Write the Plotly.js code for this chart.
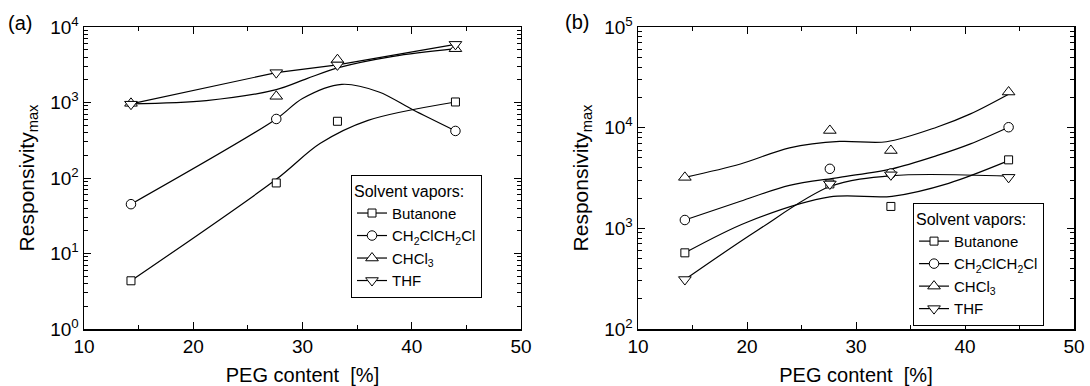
<!DOCTYPE html>
<html><head><meta charset="utf-8">
<script src="https://cdn.plot.ly/plotly-3.0.1.min.js"></script>
<style>html,body{margin:0;padding:0;background:#fff}</style>
</head><body><div id="chart" style="width:1090px;height:386px"></div>
<script>
// ---- data ----
const pegContent = [14.3, 27.6, 33.2, 44.0];
const seriesNames = ['Butanone', 'CH<sub>2</sub>ClCH<sub>2</sub>Cl', 'CHCl<sub>3</sub>', 'THF'];
const seriesSymbols = ['square', 'circle', 'triangle-up', 'triangle-down'];

// panel (a) measured points
const aButanone = [4.35, 86, 564, 1016];
const aDCE      = [45, 605, null, 420];
const aCHCl3    = [975, 1208, 3690, 5160];
const aTHF      = [950, 2485, 3150, 5890];

// panel (a) fitted guide curves
const aButanoneFitX = [14.3, 27.6, 31.6, 36.0, 44.0];
const aButanoneFitY = [4.35, 96, 286, 580, 1016];
const aDCEFitX = [14.3, 27.6, 30.0, 33.6, 37.0, 40.1, 44.0];
const aDCEFitY = [45, 605, 1130, 1740, 1380, 800, 420];
const aCHCl3FitX = [14.3, 21.2, 27.6, 30.4, 33.3, 38.3, 44.0];
const aCHCl3FitY = [960, 1060, 1480, 2070, 2890, 4080, 5160];
const aTHFFitX = [14.3, 27.6, 33.2, 44.0];
const aTHFFitY = [960, 2485, 3150, 5890];

// panel (b) measured points
const bButanone = [571, 2760, 1650, 4790];
const bDCE      = [1210, 3900, 3500, 10100];
const bCHCl3    = [3210, 9380, 5930, 22600];
const bTHF      = [310, 2760, 3400, 3210];

// panel (b) fitted guide curves
const bButanoneFitX = [14.3, 20.0, 27.6, 33.3, 38.5, 44.0];
const bButanoneFitY = [571, 1150, 2050, 2080, 2800, 4700];
const bDCEFitX = [14.3, 19.4, 23.9, 28.5, 33.3, 37.4, 40.5, 44.0];
const bDCEFitY = [1210, 1860, 2670, 3210, 3900, 5270, 6900, 10100];
const bCHCl3FitX = [14.3, 19.4, 23.9, 28.5, 32.8, 37.4, 40.5, 44.0];
const bCHCl3FitY = [3210, 4360, 6300, 7300, 7250, 10100, 13700, 21500];
const bTHFFitX = [14.3, 20.9, 27.6, 33.3, 44.0];
const bTHFFitY = [310, 946, 2600, 3340, 3300];

// axis tick labels
const xTickVals = [10, 20, 30, 40, 50];
const xMinorVals = [15, 25, 35, 45];
const aYTickVals = [1, 10, 100, 1000, 10000];
const aYTickText = ['10<sup>0</sup>', '10<sup>1</sup>', '10<sup>2</sup>', '10<sup>3</sup>', '10<sup>4</sup>'];
const bYTickVals = [100, 1000, 10000, 100000];
const bYTickText = ['10<sup>2</sup>', '10<sup>3</sup>', '10<sup>4</sup>', '10<sup>5</sup>'];

// ---- build ----
const FONT = 'Liberation Sans, Arial, Helvetica, sans-serif';
function minorLog(lo, hi) {
  const v = [];
  for (let e = lo; e < hi; e++) for (let m = 2; m <= 9; m++) v.push(m * Math.pow(10, e));
  return v;
}
const markerSizes = [8, 9.5, 11, 11];

function panel(fits, points, xa, ya, legendId, shapes) {
  const tr = [];
  fits.forEach((f, i) => {
    tr.push({x: f[0], y: f[1], xaxis: xa, yaxis: ya, mode: 'lines', showlegend: false,
      hoverinfo: 'skip', line: {color: '#000', width: 1.2, shape: shapes[i], smoothing: 0.9}});
  });
  points.forEach((p, i) => {
    tr.push({x: pegContent, y: p, xaxis: xa, yaxis: ya, mode: 'markers', showlegend: false,
      marker: {symbol: seriesSymbols[i], size: markerSizes[i], color: '#fff',
               line: {color: '#000', width: 1}}});
  });
  points.forEach((p, i) => {
    tr.push({x: [null], y: [null], xaxis: xa, yaxis: ya, mode: 'lines+markers', name: seriesNames[i],
      legend: legendId,
      line: {color: '#000', width: 1.2},
      marker: {symbol: seriesSymbols[i], size: markerSizes[i], color: '#fff',
               line: {color: '#000', width: 1}}});
  });
  return tr;
}

const traces = [].concat(
  panel([[aButanoneFitX, aButanoneFitY], [aDCEFitX, aDCEFitY], [aCHCl3FitX, aCHCl3FitY], [aTHFFitX, aTHFFitY]],
        [aButanone, aDCE, aCHCl3, aTHF], 'x', 'y', 'legend', ['spline', 'spline', 'spline', 'linear']),
  panel([[bButanoneFitX, bButanoneFitY], [bDCEFitX, bDCEFitY], [bCHCl3FitX, bCHCl3FitY], [bTHFFitX, bTHFFitY]],
        [bButanone, bDCE, bCHCl3, bTHF], 'x2', 'y2', 'legend2', ['spline', 'spline', 'spline', 'spline'])
);

function xAxis(domain, anchor) {
  return {domain: domain, anchor: anchor, range: [10, 50], tickmode: 'array', tickvals: xTickVals,
    ticks: 'inside', ticklen: 7, tickwidth: 1, tickcolor: '#000',
    minor: {tickmode: 'array', tickvals: xMinorVals, ticks: 'inside', ticklen: 4, tickwidth: 1, tickcolor: '#000', showgrid: false},
    showline: true, linecolor: '#000', linewidth: 1.5, mirror: 'allticks', showgrid: false, zeroline: false,
    tickfont: {family: FONT, size: 19, color: '#000'},
    title: {text: 'PEG content\u00a0 [%]', font: {family: FONT, size: 20, color: '#000'}, standoff: 12}};
}
function yAxis(domain, anchor, range, vals, text) {
  return {domain: domain, anchor: anchor, type: 'log', range: range, tickmode: 'array', tickvals: vals, ticktext: text,
    ticks: 'inside', ticklen: 7, tickwidth: 1, tickcolor: '#000',
    minor: {tickmode: 'array', tickvals: minorLog(range[0], range[1]), ticks: 'inside', ticklen: 4, tickwidth: 1, tickcolor: '#000', showgrid: false},
    showline: true, linecolor: '#000', linewidth: 1.5, mirror: 'allticks', showgrid: false, zeroline: false,
    tickfont: {family: FONT, size: 19, color: '#000'},
    title: {text: 'Responsivity<sub>max</sub>', font: {family: FONT, size: 21, color: '#000'}, standoff: 10}};
}
const legendBase = {bordercolor: '#000', borderwidth: 1, bgcolor: '#fff', xanchor: 'left', yanchor: 'top',
  font: {family: FONT, size: 15, color: '#000'}, tracegroupgap: 0, itemwidth: 30,
  title: {text: 'Solvent vapors:', font: {family: FONT, size: 16, color: '#000'}}};

const layout = {
  width: 1090, height: 386,
  margin: {l: 84, r: 16, t: 27, b: 57},
  paper_bgcolor: '#fff', plot_bgcolor: '#fff',
  font: {family: FONT, color: '#000'},
  xaxis: xAxis([0, 0.4414], 'y'),
  yaxis: yAxis([0, 1], 'x', [0, 4], aYTickVals, aYTickText),
  xaxis2: xAxis([0.5596, 1], 'y2'),
  yaxis2: yAxis([0, 1], 'x2', [2, 5], bYTickVals, bYTickText),
  legend: Object.assign({}, legendBase, {x: 0.2697, y: 0.51}),
  legend2: Object.assign({}, legendBase, {x: 0.8374, y: 0.417}),
  annotations: [
    {text: '(a)', xref: 'paper', yref: 'paper', x: -0.065, y: 1.013, xanchor: 'center', yanchor: 'middle', showarrow: false, font: {family: FONT, size: 20, color: '#000'}},
    {text: '(b)', xref: 'paper', yref: 'paper', x: 0.498, y: 1.016, xanchor: 'center', yanchor: 'middle', showarrow: false, font: {family: FONT, size: 20, color: '#000'}}
  ],
  showlegend: true
};

Plotly.newPlot('chart', traces, layout, {displayModeBar: false, staticPlot: true});
</script></body></html>
